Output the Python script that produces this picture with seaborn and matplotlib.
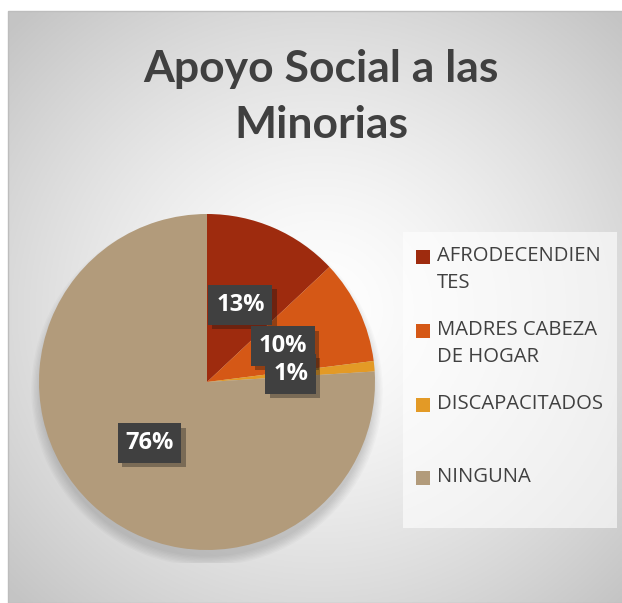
import numpy as np
import matplotlib
matplotlib.use("Agg")
import matplotlib.pyplot as plt
import matplotlib.patheffects as pe
from matplotlib.patches import Rectangle, Circle
import seaborn as sns

# data
categorias = ["AFRODECENDIEN\nTES", "MADRES CABEZA\nDE HOGAR", "DISCAPACITADOS", "NINGUNA"]
porcentajes = [13, 10, 1, 76]
colores = ["#9E2B0E", "#D55816", "#E39A26", "#B29B7B"]
titulo = ["Apoyo Social a las", "Minorias"]

sns.set_theme(style="white")
plt.rcParams["font.family"] = ["Open Sans", "DejaVu Sans"]
paleta = sns.color_palette(colores)

W, H = 622, 603
fig = plt.figure(figsize=(W / 100, H / 100), dpi=100)
fig.patch.set_facecolor("white")

def fx(x):
    return x / W

def fy(y):
    return 1 - y / H

# radial gradient background of the chart area
x0, y0 = 8, 11
bg = fig.add_axes([fx(x0), 0, 1 - fx(x0), 1 - y0 / H])
bg.set_axis_off()
gx, gy = np.meshgrid(np.linspace(x0, W, 300), np.linspace(y0, H, 300))
d = np.hypot(gx - 320, (gy - 310) * 1.05)
v = 1 - 0.23 * np.clip(d / 430, 0, 1) ** 1.4
bg.imshow(np.dstack([v, v, v]), extent=[0, 1, 0, 1], aspect="auto", origin="upper")
bg.set_xlim(0, 1)
bg.set_ylim(0, 1)
fig.add_artist(Rectangle((fx(x0), 0), 1, 1 - y0 / H, transform=fig.transFigure,
                         fill=False, ec="#bdbdbd", lw=1))

# title
for linea, yb in zip(titulo, [82, 138]):
    fig.text(fx(321), fy(yb), linea, ha="center", va="baseline", fontsize=32,
             fontweight="bold", color="#404040", family=["Lato", "DejaVu Sans"])

# pie
cx, cy, r = 207, 382, 168
ax = fig.add_axes([fx(cx - r), fy(cy + r), 2 * r / W, 2 * r / H])
for k in range(8):
    ax.add_patch(Circle((0, -0.05), 0.99 + 0.008 * k, color="black",
                        alpha=0.018, lw=0, zorder=0))
wedges, texts, autotexts = ax.pie(
    porcentajes, colors=paleta, startangle=90, counterclock=False,
    autopct="%1.0f%%", pctdistance=0.5, radius=1,
    wedgeprops=dict(lw=0, zorder=1))
for t in autotexts:
    t.set_color("white")
    t.set_fontsize(17)
    t.set_fontweight("bold")
    t.set_bbox(dict(boxstyle="square,pad=0.33", fc="#404040", ec="none"))
    t.get_bbox_patch().set_path_effects(
        [pe.SimplePatchShadow(offset=(3, -3), alpha=0.35), pe.Normal()])
    t.set_zorder(5)
ax.set_xlim(-1.08, 1.08)
ax.set_ylim(-1.08, 1.08)
ax.set_position([fx(cx - r * 1.08), fy(cy + r * 1.08), 2 * r * 1.08 / W, 2 * r * 1.08 / H])

# legend
fig.add_artist(Rectangle((fx(403), fy(528)), fx(617) - fx(403), fy(232) - fy(528),
                         transform=fig.transFigure, fc="white", alpha=0.6, ec="none"))
ys = [257, 331, 405, 478]
for cat, col, yy in zip(categorias, paleta, ys):
    fig.add_artist(Rectangle((fx(416), fy(yy + 7)), 14 / W, 14 / H,
                             transform=fig.transFigure, fc=col, ec="none"))
    fig.text(fx(437), fy(yy - 11), cat, ha="left", va="top", fontsize=14.6,
             color="#404040", linespacing=1.45)

fig.savefig("out.png", dpi=100)
